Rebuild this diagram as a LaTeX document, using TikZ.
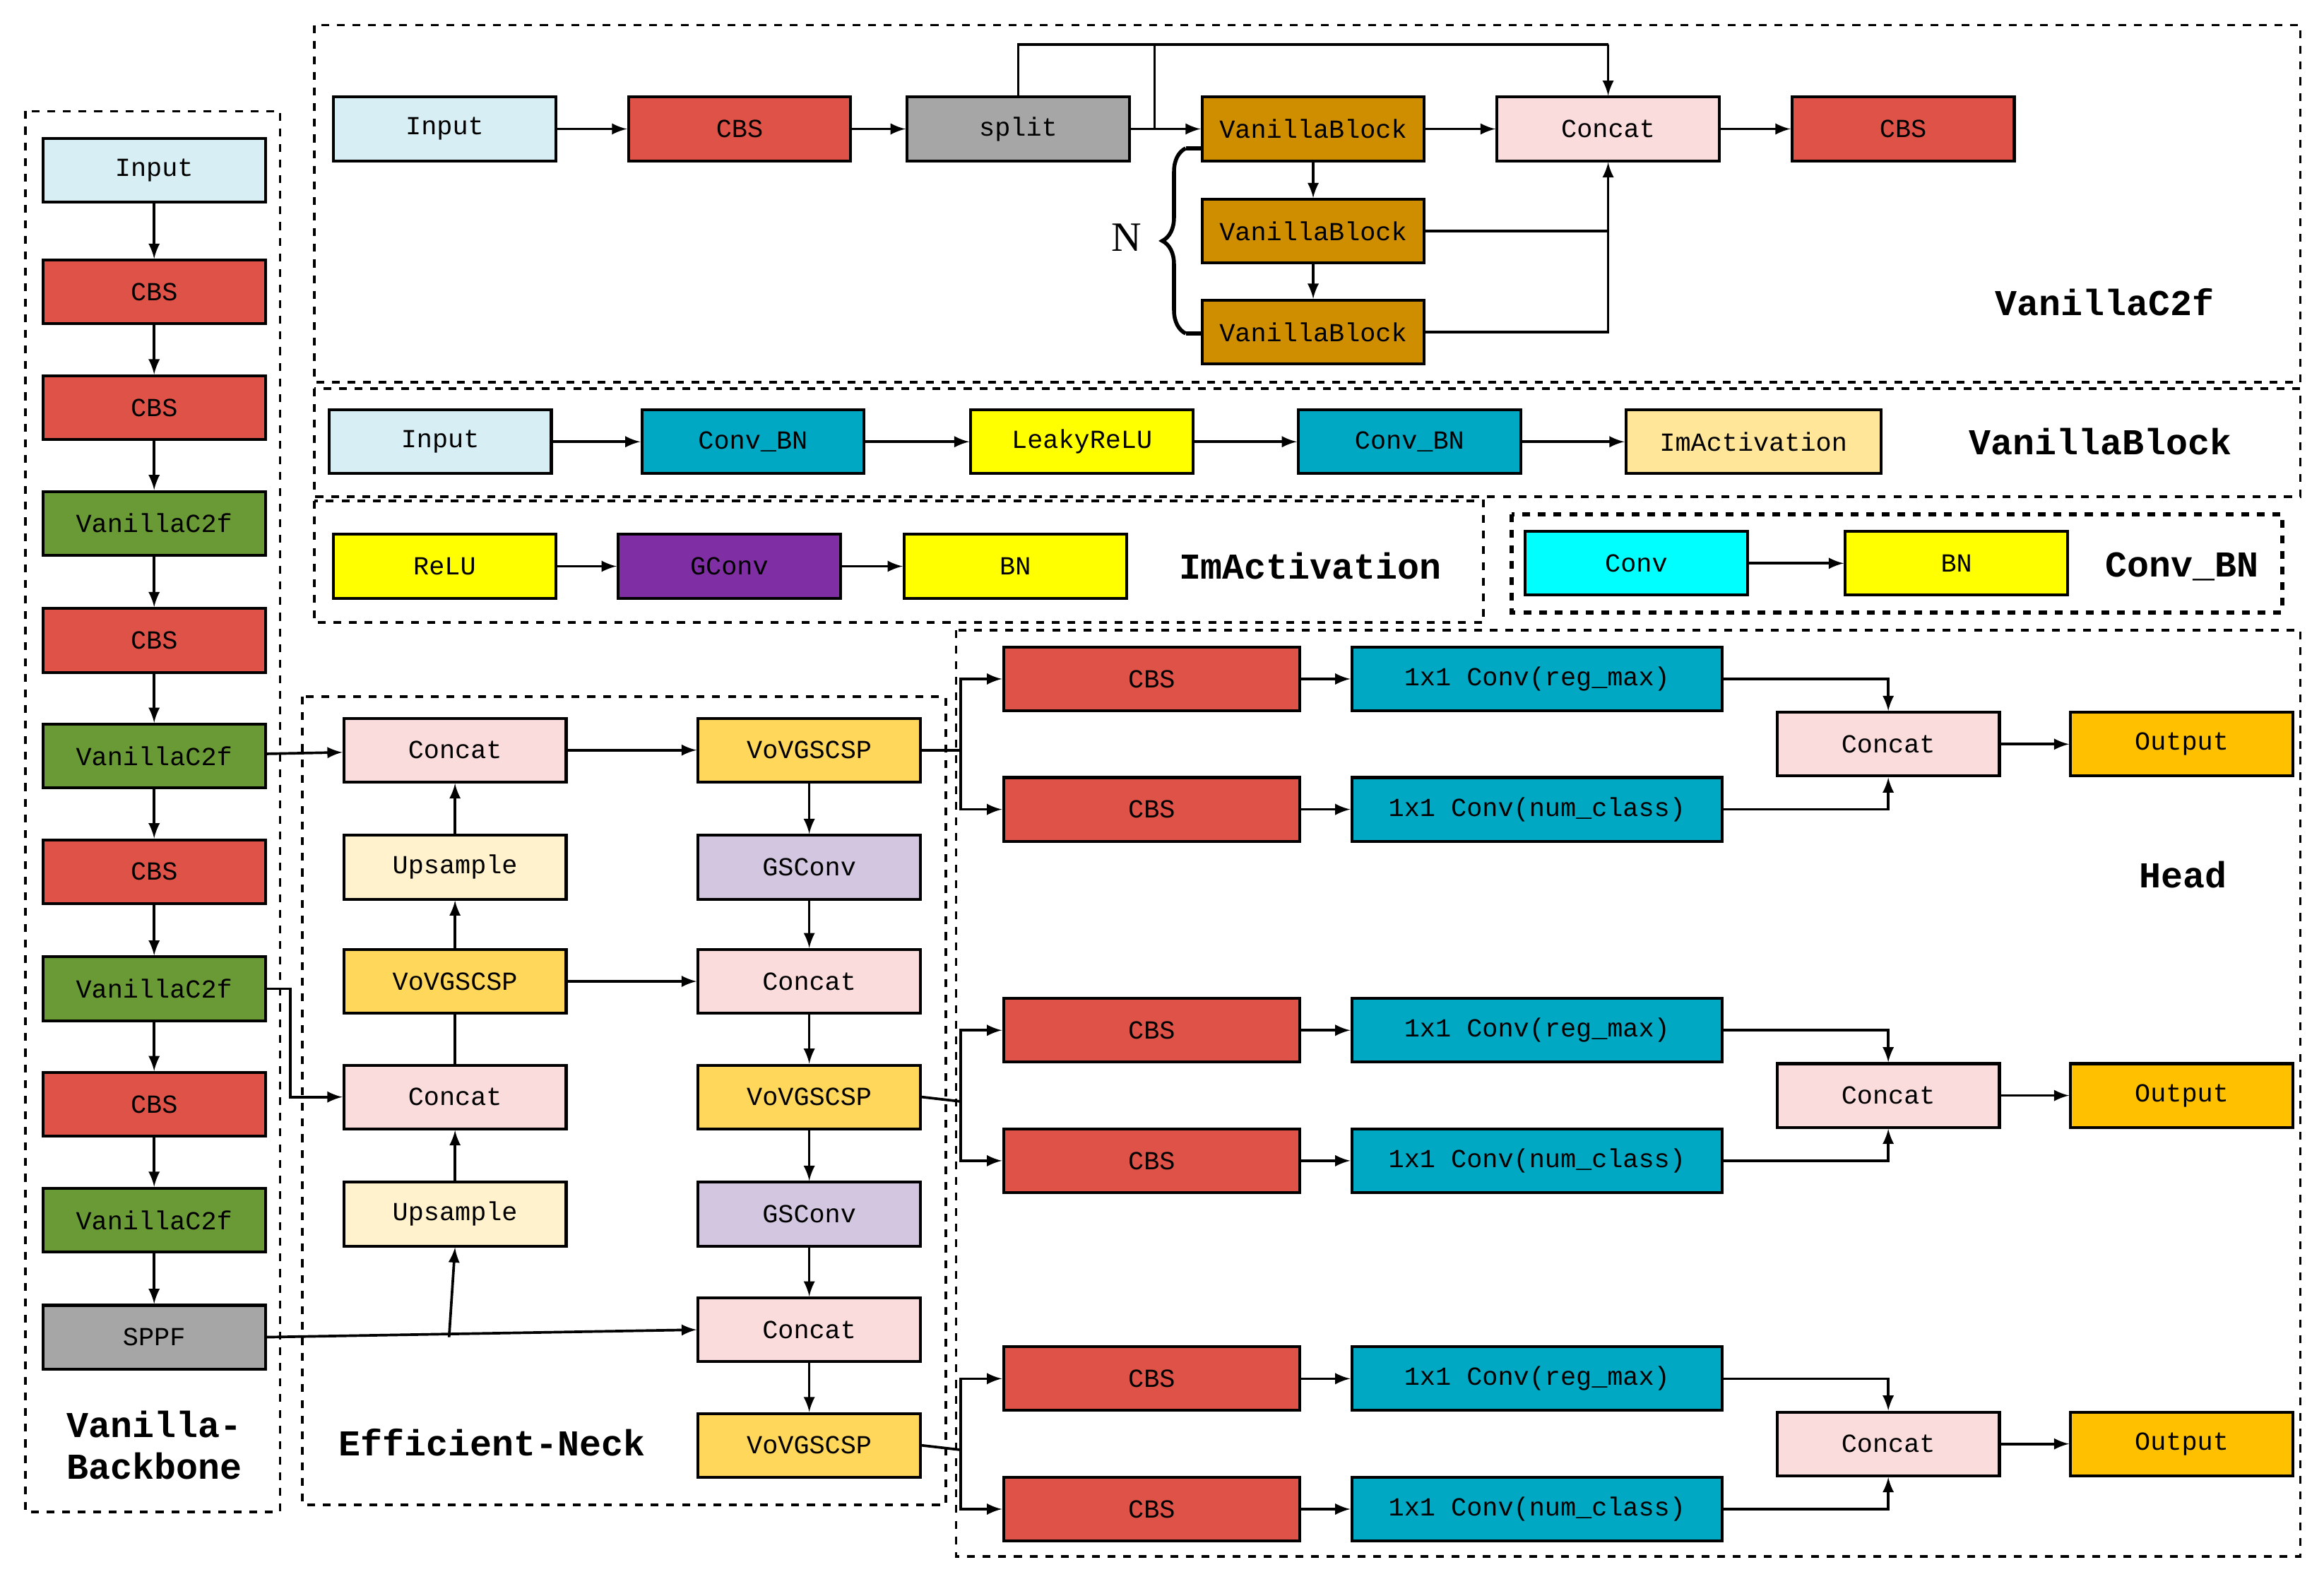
\documentclass[tikz,border=0pt]{standalone}
\usepackage{fontspec}
\setmainfont{Liberation Serif}
\newfontfamily\boxfont{Liberation Mono}
\usetikzlibrary{decorations.pathreplacing}
\definecolor{cInput}{HTML}{D6EEF4}
\definecolor{cCBS}{HTML}{DE5248}
\definecolor{cGray}{HTML}{A6A6A6}
\definecolor{cVBlock}{HTML}{CF8E00}
\definecolor{cConcat}{HTML}{F9DCDB}
\definecolor{cConvBN}{HTML}{00A8C4}
\definecolor{cYellow}{HTML}{FFFF00}
\definecolor{cImAct}{HTML}{FFE699}
\definecolor{cGConv}{HTML}{7F2FA3}
\definecolor{cCyan}{HTML}{00FFFF}
\definecolor{cC2f}{HTML}{6A9A36}
\definecolor{cUp}{HTML}{FFF2CC}
\definecolor{cVoV}{HTML}{FFD75A}
\definecolor{cGS}{HTML}{D3C6E0}
\definecolor{cOut}{HTML}{FFC000}
\begin{document}
\begin{tikzpicture}[x=0.02cm, y=-0.02cm, >=latex, line width=1pt]

  \tikzstyle{B}=[draw, line width=1.1pt, minimum width=3cm, minimum height=0.86cm, inner sep=1pt, font=\boxfont\fontsize{10}{12}\selectfont]
  \tikzstyle{W}=[B, minimum width=5cm]
  \tikzstyle{F}=[draw, dashed, line width=1pt]
  \tikzstyle{L}=[font=\boxfont\bfseries\fontsize{14}{16}\selectfont, align=center]
  \tikzstyle{A}=[->]

  \useasboundingbox (0,0) rectangle (1568,1060);

  % frames
  \draw[F] (17,75) rectangle (189,1020);
  \draw[F] (212,17) rectangle (1552,258);
  \draw[F] (212,262) rectangle (1552,335);
  \draw[F] (212,338) rectangle (1001,420);
  \draw[F, line width=1.6pt] (1020,347) rectangle (1540,413);
  \draw[F] (204,470) rectangle (638,1015);
  \draw[F] (645,425) rectangle (1552,1050);

  % backbone
  \node[B, fill=cInput] at (104,115) (bin) {Input};
  \node[B, fill=cCBS] at (104,197) (b1) {CBS};
  \node[B, fill=cCBS] at (104,275) (b2) {CBS};
  \node[B, fill=cC2f] at (104,353) (b3) {VanillaC2f};
  \node[B, fill=cCBS] at (104,432) (b4) {CBS};
  \node[B, fill=cC2f] at (104,510) (b5) {VanillaC2f};
  \node[B, fill=cCBS] at (104,588) (b6) {CBS};
  \node[B, fill=cC2f] at (104,667) (b7) {VanillaC2f};
  \node[B, fill=cCBS] at (104,745) (b8) {CBS};
  \node[B, fill=cC2f] at (104,823) (b9) {VanillaC2f};
  \node[B, fill=cGray] at (104,902) (sppf) {SPPF};
  \node[L] at (104,975) (lbb) {Vanilla-\\Backbone};

  \draw[A] (bin) -- (b1);
  \draw[A] (b1) -- (b2);
  \draw[A] (b2) -- (b3);
  \draw[A] (b3) -- (b4);
  \draw[A] (b4) -- (b5);
  \draw[A] (b5) -- (b6);
  \draw[A] (b6) -- (b7);
  \draw[A] (b7) -- (b8);
  \draw[A] (b8) -- (b9);
  \draw[A] (b9) -- (sppf);

  % VanillaC2f
  \node[B, fill=cInput] at (300,87) (cin) {Input};
  \node[B, fill=cCBS] at (499,87) (ccbs) {CBS};
  \node[B, fill=cGray] at (687,87) (split) {split};
  \node[B, fill=cVBlock] at (886,87) (vb1) {VanillaBlock};
  \node[B, fill=cVBlock] at (886,156) (vb2) {VanillaBlock};
  \node[B, fill=cVBlock] at (886,224) (vb3) {VanillaBlock};
  \node[B, fill=cConcat] at (1085,87) (ccat) {Concat};
  \node[B, fill=cCBS] at (1284,87) (cout) {CBS};
  \node[L] at (1420,204) (lc2f) {VanillaC2f};
  \node[font=\fontsize{16}{18}\selectfont] at (760,160) (lN) {N};

  \draw[A] (cin) -- (ccbs);
  \draw[A] (ccbs) -- (split);
  \draw[A] (split) -- (vb1);
  \draw (split.north) -- (687,30) -- (1085,30);
  \draw[A] (1085,30) -- (ccat.north);
  \draw (779,87) -- (779,30);
  \draw[A] (vb1) -- (vb2);
  \draw[A] (vb2) -- (vb3);
  \draw[A] (vb1) -- (ccat);
  \draw[A] (ccat) -- (cout);
  \draw (vb2.east) -- (1085,156);
  \draw[A] (vb3.east) -- (1085,224) -- (ccat.south);
  \draw[decorate, decoration={brace, amplitude=9pt}, line width=1.5pt] (800,225) -- (800,100);
  \draw[line width=1.5pt] (800,100) -- (811,100);
  \draw[line width=1.5pt] (800,225) -- (811,225);

  % VanillaBlock
  \node[B, fill=cInput] at (297,298) (vin) {Input};
  \node[B, fill=cConvBN] at (508,298) (vcb1) {Conv\_BN};
  \node[B, fill=cYellow] at (730,298) (vrelu) {LeakyReLU};
  \node[B, fill=cConvBN] at (951,298) (vcb2) {Conv\_BN};
  \node[B, fill=cImAct, minimum width=3.44cm] at (1183,298) (vim) {ImActivation};
  \node[L] at (1417,298) (lvb) {VanillaBlock};
  \draw[A] (vin) -- (vcb1);
  \draw[A] (vcb1) -- (vrelu);
  \draw[A] (vrelu) -- (vcb2);
  \draw[A] (vcb2) -- (vim);

  % ImActivation
  \node[B, fill=cYellow] at (300,382) (irelu) {ReLU};
  \node[B, fill=cGConv] at (492,382) (igc) {GConv};
  \node[B, fill=cYellow] at (685,382) (ibn) {BN};
  \node[L] at (884,382) (lim) {ImActivation};
  \draw[A] (irelu) -- (igc);
  \draw[A] (igc) -- (ibn);

  % Conv_BN
  \node[B, fill=cCyan] at (1104,380) (kconv) {Conv};
  \node[B, fill=cYellow] at (1320,380) (kbn) {BN};
  \node[L] at (1472,382) (lcb) {Conv\_BN};
  \draw[A] (kconv) -- (kbn);

  % neck
  \node[B, fill=cConcat] at (307,506) (nc1) {Concat};
  \node[B, fill=cUp] at (307,585) (nu1) {Upsample};
  \node[B, fill=cVoV] at (307,662) (nv1) {VoVGSCSP};
  \node[B, fill=cConcat] at (307,740) (nc2) {Concat};
  \node[B, fill=cUp] at (307,819) (nu2) {Upsample};
  \node[B, fill=cVoV] at (546,506) (mv1) {VoVGSCSP};
  \node[B, fill=cGS] at (546,585) (mg1) {GSConv};
  \node[B, fill=cConcat] at (546,662) (mc1) {Concat};
  \node[B, fill=cVoV] at (546,740) (mv2) {VoVGSCSP};
  \node[B, fill=cGS] at (546,819) (mg2) {GSConv};
  \node[B, fill=cConcat] at (546,897) (mc2) {Concat};
  \node[B, fill=cVoV] at (546,975) (mv3) {VoVGSCSP};
  \node[L] at (332,973) (lneck) {Efficient-Neck};

  \draw[A] (b5) -- (nc1);
  \draw[A] (b7.east) -- (196,667) -- (196,740) -- (nc2.west);
  \draw[A] (sppf.east) -- (mc2.west);
  \draw[A] (303,902) -- (nu2.south);
  \draw[A] (nu2) -- (nc2);
  \draw (nc2) -- (nv1);
  \draw[A] (nv1) -- (nu1);
  \draw[A] (nu1) -- (nc1);
  \draw[A] (nv1) -- (mc1);
  \draw[A] (nc1) -- (mv1);
  \draw[A] (mv1) -- (mg1);
  \draw[A] (mg1) -- (mc1);
  \draw[A] (mc1) -- (mv2);
  \draw[A] (mv2) -- (mg2);
  \draw[A] (mg2) -- (mc2);
  \draw[A] (mc2) -- (mv3);

  % head
  \foreach \i/\y/\src in {1/458/mv1, 2/695/mv2, 3/930/mv3} {
    \node[B, fill=cCBS, minimum width=4cm] at (777,\y) (hr\i) {CBS};
    \node[B, fill=cCBS, minimum width=4cm] at (777,\y+88) (hn\i) {CBS};
    \node[W, fill=cConvBN] at (1037,\y) (hcr\i) {1x1 Conv(reg\_max)};
    \node[W, fill=cConvBN] at (1037,\y+88) (hcn\i) {1x1 Conv(num\_class)};
    \node[B, fill=cConcat] at (1274,\y+44) (hcat\i) {Concat};
    \node[B, fill=cOut] at (1472,\y+44) (hout\i) {Output};
    \draw (\src.east) -- (648,\y+48);
    \draw[A] (648,\y+48) |- (hr\i.west);
    \draw[A] (648,\y+48) |- (hn\i.west);
    \draw[A] (hr\i) -- (hcr\i);
    \draw[A] (hn\i) -- (hcn\i);
    \draw[A] (hcr\i.east) -| (hcat\i.north);
    \draw[A] (hcn\i.east) -| (hcat\i.south);
    \draw[A] (hcat\i) -- (hout\i);
  }
  \node[L] at (1473,590) (lhead) {Head};

\end{tikzpicture}
\end{document}
